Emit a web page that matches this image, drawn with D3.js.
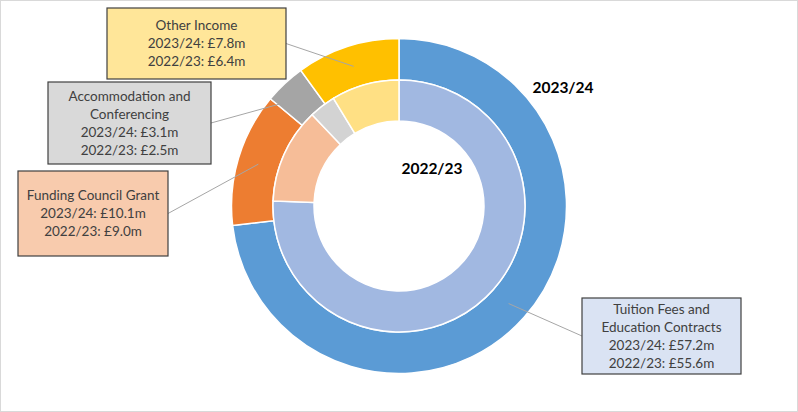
<!DOCTYPE html>
<html>
<head>
<meta charset="utf-8">
<script src="https://cdn.jsdelivr.net/npm/d3@7"></script>
<style>
  html, body { margin: 0; padding: 0; background: #fff; }
  svg { display: block; font-family: Lato, "Liberation Sans", sans-serif; }
</style>
</head>
<body>
<svg id="chart" width="798" height="412"></svg>
<script>
// income categories, clockwise from 12 o'clock
var categories = ["Tuition Fees and Education Contracts", "Funding Council Grant", "Accommodation and Conferencing", "Other Income"];
var values2324 = [57.2, 10.1, 3.1, 7.8];
var values2223 = [55.6, 9.0, 2.5, 6.4];
var ringNames = ["2023/24", "2022/23"];

var outerColors = ["#5B9BD5", "#ED7D31", "#A5A5A5", "#FFC000"];
var innerColors = ["#A1B8E1", "#F6BD98", "#D3D3D3", "#FFE084"];
var boxFills = ["#DAE3F3", "#F8CBAD", "#D9D9D9", "#FFE699"];

// label boxes (layout only): left, top, width, height, text lines
var boxes = [
  { x: 582, y: 298, w: 159, h: 76, lines: ["Tuition Fees and", "Education Contracts"] },
  { x: 18,  y: 171, w: 150, h: 85, lines: ["Funding Council Grant"] },
  { x: 48,  y: 82,  w: 163, h: 82, lines: ["Accommodation and", "Conferencing"] },
  { x: 107, y: 8,   w: 179, h: 71, lines: ["Other Income"] }
];

var svg = d3.select("#chart");
var cx = 399, cy = 206;
var rOuter = 167.5, rMid = 126, rInner = 85;

svg.append("rect")
  .attr("x", 0.5).attr("y", 0.5)
  .attr("width", 797).attr("height", 411)
  .attr("fill", "#fff")
  .attr("stroke", "#D9D9D9");

var pie = d3.pie().sort(null).value(function(d) { return d; });

var outerArc = d3.arc().innerRadius(rMid).outerRadius(rOuter);
var innerArc = d3.arc().innerRadius(rInner).outerRadius(rMid);

var g = svg.append("g").attr("transform", "translate(" + cx + "," + cy + ")");

var outerSlices = pie(values2324);
var innerSlices = pie(values2223);

g.append("g").selectAll("path")
  .data(outerSlices)
  .enter().append("path")
    .attr("d", outerArc)
    .attr("fill", function(d, i) { return outerColors[i]; })
    .attr("stroke", "#fff")
    .attr("stroke-width", 1.5);

g.append("g").selectAll("path")
  .data(innerSlices)
  .enter().append("path")
    .attr("d", innerArc)
    .attr("fill", function(d, i) { return innerColors[i]; })
    .attr("stroke", "#fff")
    .attr("stroke-width", 1.5);

// leader lines from the outer ring to the boxes
g.append("g").selectAll("line")
  .data(outerSlices)
  .enter().append("line")
    .attr("x1", function(d) { return outerArc.centroid(d)[0]; })
    .attr("y1", function(d) { return outerArc.centroid(d)[1]; })
    .attr("x2", function(d, i) {
      var b = boxes[i];
      return (b.x > cx ? b.x : b.x + b.w) - cx;
    })
    .attr("y2", function(d, i) {
      var b = boxes[i];
      return b.y + b.h / 2 - cy;
    })
    .attr("stroke", "#A6A6A6")
    .attr("stroke-width", 1);

// label boxes
var lab = svg.append("g").selectAll("g")
  .data(boxes)
  .enter().append("g");

lab.append("rect")
  .attr("x", function(d) { return d.x; })
  .attr("y", function(d) { return d.y; })
  .attr("width", function(d) { return d.w; })
  .attr("height", function(d) { return d.h; })
  .attr("fill", function(d, i) { return boxFills[i]; })
  .attr("stroke", "#404040")
  .attr("stroke-width", 1.2);

lab.each(function(d, i) {
  var lines = d.lines.concat([
    ringNames[0] + ": £" + values2324[i].toFixed(1) + "m",
    ringNames[1] + ": £" + values2223[i].toFixed(1) + "m"
  ]);
  var lh = 18;
  var top = d.y + d.h / 2 - (lines.length - 1) * lh / 2;
  d3.select(this).selectAll("text")
    .data(lines)
    .enter().append("text")
      .attr("x", d.x + d.w / 2)
      .attr("y", function(t, k) { return top + k * lh; })
      .attr("dy", "0.35em")
      .attr("text-anchor", "middle")
      .attr("font-size", 13.5)
      .attr("fill", "#404040")
      .text(function(t) { return t; });
});

// ring titles
svg.append("text")
  .attr("x", 563).attr("y", 88)
  .attr("dy", "0.35em")
  .attr("text-anchor", "middle")
  .attr("font-size", 15.5)
  .attr("font-weight", "bold")
  .attr("fill", "#000")
  .text(ringNames[0]);

svg.append("text")
  .attr("x", 432).attr("y", 169)
  .attr("dy", "0.35em")
  .attr("text-anchor", "middle")
  .attr("font-size", 15.5)
  .attr("font-weight", "bold")
  .attr("fill", "#000")
  .text(ringNames[1]);
</script>
</body>
</html>
